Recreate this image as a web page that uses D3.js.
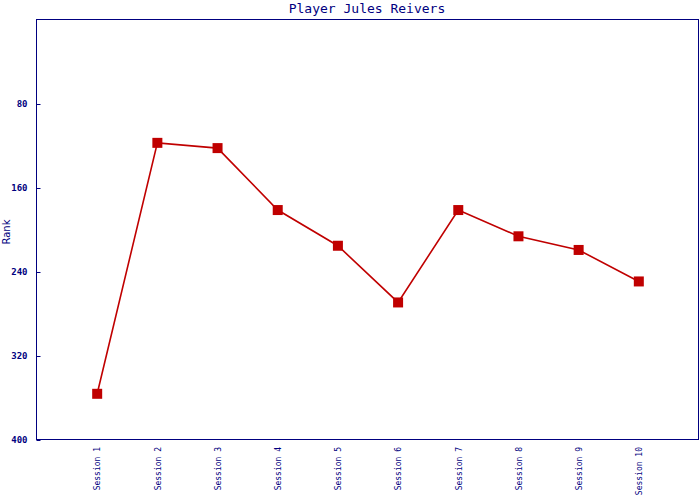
<!DOCTYPE html>
<html><head><meta charset="utf-8">
<script src="https://cdn.jsdelivr.net/npm/d3@7"></script>
<style>body{margin:0;background:#fff}</style>
</head><body><svg id="c" width="700" height="500"></svg>
<script>
const sessions = ["Session 1","Session 2","Session 3","Session 4","Session 5","Session 6","Session 7","Session 8","Session 9","Session 10"];
const ranks = [356, 117, 122, 181, 215, 269, 181, 206, 219, 249];
const yTicks = [80, 160, 240, 320, 400];
const title = "Player Jules Reivers";
const yLabel = "Rank";

const navy = "#000080", red = "#c00000";
const m = {l:37, r:699, t:20, b:440};
const svg = d3.select("#c");
const x = d3.scalePoint().domain(sessions).range([m.l, m.r]).padding(1);
const y = d3.scaleLinear().domain([0, 400]).range([m.t, m.b]);

svg.append("rect").attr("x", m.l-0.5).attr("y", m.t-0.5).attr("width", m.r-m.l).attr("height", m.b-m.t)
  .attr("fill","none").attr("stroke", navy).attr("stroke-width",1);

svg.append("text").attr("x", 367).attr("y", 13).attr("text-anchor","middle")
  .attr("font-family","DejaVu Sans Mono").attr("font-size",13).attr("fill",navy).text(title);

const ya = svg.append("g").attr("transform",`translate(${m.l-0.5},0)`)
  .call(d3.axisLeft(y).tickValues(yTicks).tickSize(-4).tickPadding(9));
ya.select(".domain").remove();
ya.selectAll("line").attr("stroke", navy);
ya.selectAll("text").attr("fill", navy).attr("font-family","DejaVu Sans Mono").attr("font-size",9).attr("font-weight","bold");

svg.append("text").attr("transform","translate(10,232) rotate(-90)").attr("text-anchor","middle")
  .attr("font-family","DejaVu Sans").attr("font-size",10).attr("fill",navy).text(yLabel);

const xa = svg.append("g").attr("transform",`translate(0,${m.b})`)
  .call(d3.axisBottom(x).tickSize(0));
xa.select(".domain").remove();
xa.selectAll("text").attr("fill", navy).attr("font-family","DejaVu Sans Mono").attr("font-size",8)
  .attr("text-anchor","end").attr("dy","0.35em")
  .attr("transform","translate(0,7) rotate(-90)").attr("x",0).attr("y",0);

const data = sessions.map((s,i)=>({s, v:ranks[i]}));
svg.append("path").datum(data).attr("fill","none").attr("stroke", red).attr("stroke-width",1.6)
  .attr("d", d3.line().x(d=>x(d.s)).y(d=>y(d.v)));
svg.selectAll("rect.pt").data(data).enter().append("rect").attr("class","pt")
  .attr("x", d=>x(d.s)-5).attr("y", d=>y(d.v)-5).attr("width",10).attr("height",10).attr("fill", red);
</script></body></html>
